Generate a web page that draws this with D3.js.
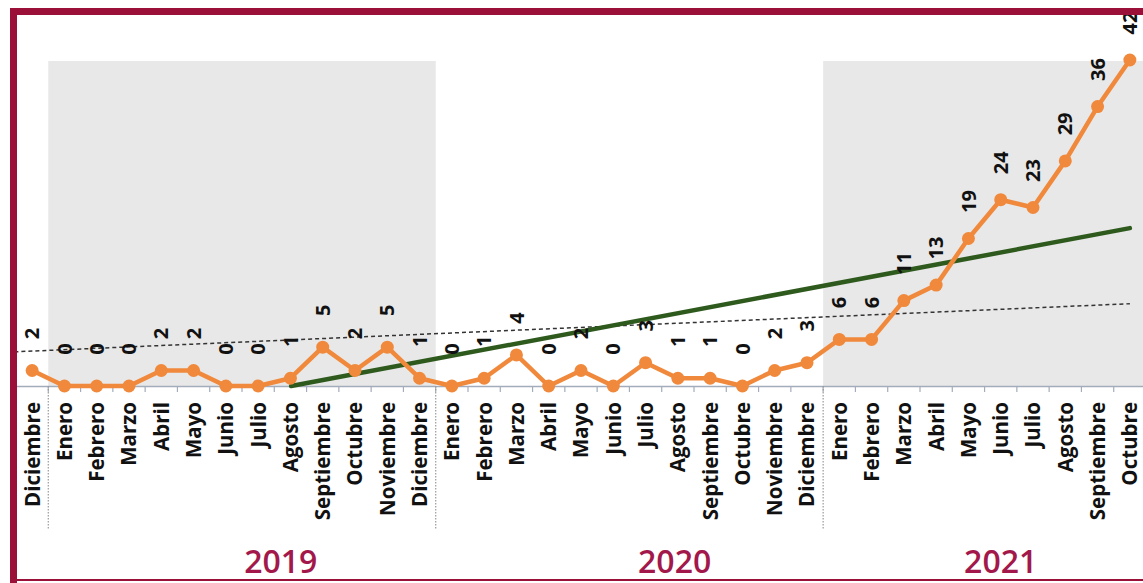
<!DOCTYPE html>
<html>
<head>
<meta charset="utf-8">
<script src="https://cdn.jsdelivr.net/npm/d3@7"></script>
<style>
  html, body { margin: 0; padding: 0; background: #fff; }
  svg { display: block; font-family: "Open Sans", "Noto Sans", sans-serif; }
</style>
</head>
<body>
<div id="chart"></div>
<script>
// monthly values, Diciembre 2018 .. Octubre 2021
const months = [
  "Diciembre",
  "Enero", "Febrero", "Marzo", "Abril", "Mayo", "Junio", "Julio", "Agosto", "Septiembre", "Octubre", "Noviembre", "Diciembre",
  "Enero", "Febrero", "Marzo", "Abril", "Mayo", "Junio", "Julio", "Agosto", "Septiembre", "Octubre", "Noviembre", "Diciembre",
  "Enero", "Febrero", "Marzo", "Abril", "Mayo", "Junio", "Julio", "Agosto", "Septiembre", "Octubre"
];
const cases = [
  2,
  0, 0, 0, 2, 2, 0, 0, 1, 5, 2, 5, 1,
  0, 1, 4, 0, 2, 0, 3, 1, 1, 0, 2, 3,
  6, 6, 11, 13, 19, 24, 23, 29, 36, 42
];
const years = ["2019", "2020", "2021"];
const yearStart = [1, 13, 25];       // first month index of each year
const yearEnd = [12, 24, 34];        // last month index of each year
const yearShaded = [true, false, true];
const yearLabelAt = [7.7, 19.9, 30.0];
// dotted reference line (month index -> value)
const dottedIdx = [-0.55, 34];
const dottedVal = [4.4, 10.6];

const width = 1143, height = 583;
const crimson = "#9b1038";

const svg = d3.select("#chart")
  .append("svg")
  .attr("width", width)
  .attr("height", height);

const idx = d3.range(cases.length);
const x = d3.scaleBand()
  .domain(idx)
  .range([16, 1146])
  .padding(0);
const bw = x.bandwidth();
const xc = i => x(0) + bw * (i + 0.5);

const y = d3.scaleLinear()
  .domain([0, 42])
  .range([386, 60]);

// shaded year bands
svg.selectAll(".band")
  .data(years.filter((d, i) => yearShaded[i]).map(d => years.indexOf(d)))
  .enter()
  .append("rect")
  .attr("x", i => x(yearStart[i]))
  .attr("y", y(42) + 1)
  .attr("width", i => Math.min(width, x(yearEnd[i]) + bw) - x(yearStart[i]))
  .attr("height", i => y(0) - y(42) - 1)
  .attr("fill", "#e8e8e8");

// x axis
const axis = svg.append("g")
  .attr("transform", `translate(0,${y(0)})`)
  .call(d3.axisBottom(x).tickSize(0).tickFormat(i => months[i]));
axis.select(".domain").attr("stroke", "#a3acbb").attr("stroke-width", 1.5);
axis.selectAll("text")
  .attr("transform", "rotate(-90)")
  .attr("x", -16)
  .attr("y", 0)
  .attr("dy", "0.36em")
  .attr("text-anchor", "end")
  .style("font-size", "20.5px")
  .style("font-weight", "700")
  .style("font-family", "'Open Sans', sans-serif")
  .attr("fill", "#111");

// boundary ticks
svg.selectAll(".tick-b")
  .data(d3.range(1, cases.length))
  .enter()
  .append("line")
  .attr("x1", i => x(i))
  .attr("x2", i => x(i))
  .attr("y1", y(0))
  .attr("y2", y(0) + 6)
  .attr("stroke", "#a3acbb")
  .attr("stroke-width", 1.2);

// year separators
svg.selectAll(".sep")
  .data(yearStart)
  .enter()
  .append("line")
  .attr("x1", i => x(i))
  .attr("x2", i => x(i))
  .attr("y1", y(0))
  .attr("y2", 530)
  .attr("stroke", "#9a9a9a")
  .attr("stroke-width", 1.2)
  .attr("stroke-dasharray", "1.5,1.5");

// year labels
svg.selectAll(".year")
  .data(years)
  .enter()
  .append("text")
  .attr("x", (d, i) => xc(yearLabelAt[i]))
  .attr("y", 573)
  .attr("text-anchor", "middle")
  .style("font-size", "32px")
  .style("font-weight", "600")
  .attr("fill", "#a3184a")
  .text(d => d);

// dotted reference line
svg.append("line")
  .attr("x1", xc(dottedIdx[0]))
  .attr("y1", y(dottedVal[0]))
  .attr("x2", xc(dottedIdx[1]))
  .attr("y2", y(dottedVal[1]))
  .attr("stroke", "#333")
  .attr("stroke-width", 1.5)
  .attr("stroke-dasharray", "4,3");

// linear trend of the series, kept above zero
const mx = d3.mean(idx), my = d3.mean(cases);
const slope = d3.sum(idx, i => (i - mx) * (cases[i] - my)) / d3.sum(idx, i => (i - mx) ** 2);
const icpt = my - slope * mx;
const t0 = Math.max(0, -icpt / slope), t1 = cases.length - 1;
svg.append("line")
  .attr("x1", xc(t0))
  .attr("y1", y(slope * t0 + icpt))
  .attr("x2", xc(t1))
  .attr("y2", y(slope * t1 + icpt))
  .attr("stroke", "#2f5a1e")
  .attr("stroke-width", 4.5)
  .attr("stroke-linecap", "round");

// series line and markers
const line = d3.line()
  .x((d, i) => xc(i))
  .y(d => y(d));

svg.append("path")
  .datum(cases)
  .attr("d", line)
  .attr("fill", "none")
  .attr("stroke", "#f0893b")
  .attr("stroke-width", 4.5)
  .attr("stroke-linejoin", "round");

svg.selectAll(".dot")
  .data(cases)
  .enter()
  .append("circle")
  .attr("cx", (d, i) => xc(i))
  .attr("cy", d => y(d))
  .attr("r", 6.5)
  .attr("fill", "#f0893b");

// value labels
svg.selectAll(".val")
  .data(cases)
  .enter()
  .append("text")
  .attr("transform", (d, i) => `translate(${xc(i)},${y(d) - 37}) rotate(-90)`)
  .attr("text-anchor", "middle")
  .attr("dy", "0.36em")
  .style("font-size", "20px")
  .style("font-weight", "700")
  .attr("fill", "#111")
  .text(d => d);

// frame
svg.append("rect").attr("x", 10).attr("y", 8).attr("width", 7).attr("height", height - 8).attr("fill", crimson);
svg.append("rect").attr("x", 10).attr("y", 8).attr("width", width - 10).attr("height", 7).attr("fill", crimson);
svg.append("rect").attr("x", 10).attr("y", 579).attr("width", width - 10).attr("height", 2).attr("fill", crimson);
</script>
</body>
</html>
